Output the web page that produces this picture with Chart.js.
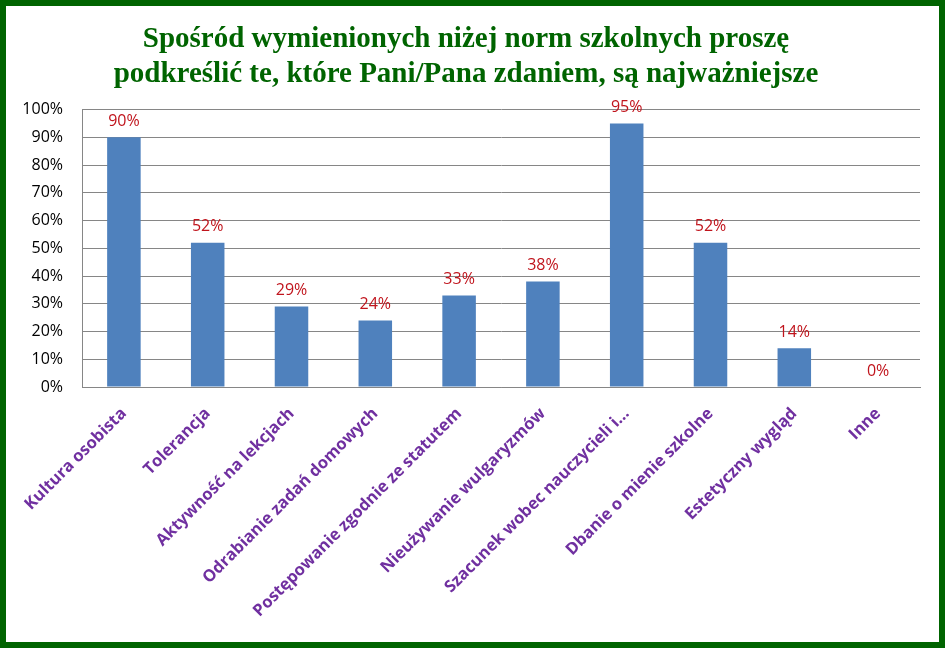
<!DOCTYPE html>
<html lang="pl">
<head>
  <meta charset="UTF-8">
  <title>Normy szkolne</title>
  <script src="https://cdn.jsdelivr.net/npm/chart.js"></script>
  <style>
    html, body {
      margin: 0;
      padding: 0;
      background: #ffffff;
    }
    #frame {
      width: 945px;
      height: 648px;
      box-sizing: border-box;
      border: 6px solid #006400;
      background: #ffffff;
    }
    #chart {
      display: block;
    }
  </style>
</head>
<body>
  <div id="frame">
    <canvas id="chart" width="933" height="636"></canvas>
  </div>

  <script>
    const categories = [
      "Kultura osobista",
      "Tolerancja",
      "Aktywność na lekcjach",
      "Odrabianie zadań domowych",
      "Postępowanie zgodnie ze statutem",
      "Nieużywanie wulgaryzmów",
      "Szacunek wobec nauczycieli i…",
      "Dbanie o mienie szkolne",
      "Estetyczny wygląd",
      "Inne"
    ];
    const values = [90, 52, 29, 24, 33, 38, 95, 52, 14, 0];
    const yTicks = [0, 10, 20, 30, 40, 50, 60, 70, 80, 90, 100];

    const titleLines = [
      "Spośród wymienionych niżej norm szkolnych proszę",
      "podkreślić te, które Pani/Pana zdaniem, są najważniejsze"
    ];

    // etykiety wartości nad słupkami
    const valueLabels = {
      id: 'valueLabels',
      afterDatasetsDraw(chart) {
        const ctx = chart.ctx;
        const meta = chart.getDatasetMeta(0);
        ctx.save();
        ctx.fillStyle = '#c0141c';
        ctx.font = '16px "Open Sans"';
        ctx.textAlign = 'center';
        ctx.textBaseline = 'bottom';
        meta.data.forEach((bar, i) => {
          ctx.fillText(values[i] + '%', bar.x, bar.y - 8);
        });
        ctx.restore();
      }
    };

    new Chart(document.getElementById('chart'), {
      type: 'bar',
      data: {
        labels: categories,
        datasets: [{
          data: values,
          backgroundColor: '#4f81bd',
          barPercentage: 0.4,
          categoryPercentage: 1.0
        }]
      },
      options: {
        responsive: false,
        animation: false,
        layout: {
          padding: { left: 6, right: 19, top: 0, bottom: 0 }
        },
        plugins: {
          legend: { display: false },
          tooltip: { enabled: false },
          title: {
            display: true,
            text: titleLines,
            color: '#006400',
            font: { family: '"Liberation Serif"', size: 29, weight: 'bold', lineHeight: 1.2 },
            padding: { top: 16, bottom: 18 }
          }
        },
        scales: {
          x: {
            grid: { display: false, drawTicks: false },
            border: { color: '#868686' },
            afterFit(scale) { scale.height = 255; },
            ticks: {
              color: '#7030a0',
              font: { family: '"Open Sans"', size: 16.5, weight: 'bold' },
              minRotation: 45,
              maxRotation: 45,
              autoSkip: false,
              padding: 17
            }
          },
          y: {
            min: 0,
            max: 100,
            afterFit(scale) { scale.width = 70; },
            afterBuildTicks(scale) { scale.ticks = yTicks.map(v => ({ value: v })); },
            grid: { color: '#868686', drawTicks: false },
            border: { color: '#868686' },
            ticks: {
              color: '#000000',
              font: { family: '"Open Sans"', size: 16 },
              padding: 19,
              callback: v => v + '%'
            }
          }
        }
      },
      plugins: [valueLabels]
    });
  </script>
</body>
</html>
